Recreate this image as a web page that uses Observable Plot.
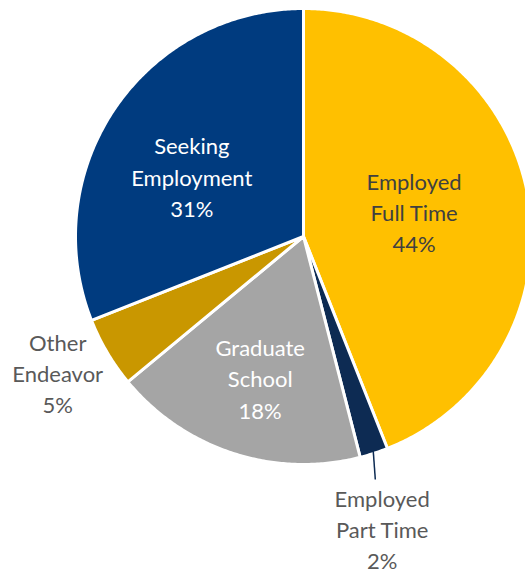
<!DOCTYPE html>
<html><head><meta charset="utf-8">
<script src="https://cdn.jsdelivr.net/npm/d3@7"></script>
<script src="https://cdn.jsdelivr.net/npm/@observablehq/plot@0.6"></script>
<style>body{margin:0;background:#fff;} #chart svg{overflow:hidden}</style>
</head><body><div id="chart"></div>
<script>
// ---- data ----
const categories = ["Employed Full Time", "Employed Part Time", "Graduate School", "Other Endeavor", "Seeking Employment"];
const values = [44, 2, 18, 5, 31];
const colors = ["#FFC000", "#0D2B53", "#A5A5A5", "#C99700", "#003B7F"];
const textColors = ["#404040", "#595959", "#ffffff", "#595959", "#ffffff"];

// ---- layout (unit-circle coordinates for label centres) ----
const labelPos = {
  "Employed Full Time": [0.485, 0.09],
  "Employed Part Time": [0.345, -1.30],
  "Graduate School": [-0.19, -0.64],
  "Other Endeavor": [-1.078, -0.616],
  "Seeking Employment": [-0.49, 0.245]
};
const leaderEnd = {"Employed Part Time": [0.315, -1.066]};

const cx = 303, cy = 236, R = 228;

const pie = d3.pie().sort(null).value(d => d.value)(categories.map((c, i) => ({category: c, value: values[i]})));

const pts = [];
for (const s of pie) {
  pts.push({category: s.data.category, x: 0, y: 0});
  const n = Math.max(4, Math.ceil((s.endAngle - s.startAngle) / (Math.PI / 360)));
  for (let k = 0; k <= n; k++) {
    const a = s.startAngle + (s.endAngle - s.startAngle) * k / n;
    pts.push({category: s.data.category, x: Math.sin(a), y: Math.cos(a)});
  }
}

const labels = pie.map((s, i) => {
  const c = s.data.category;
  const sp = c.indexOf(" ");
  return {
    category: c,
    text: c.slice(0, sp) + "\n" + c.slice(sp + 1) + "\n" + s.data.value + "%",
    x: labelPos[c][0], y: labelPos[c][1], color: textColors[i]
  };
});

const leaders = pie.filter(s => leaderEnd[s.data.category]).map(s => {
  const m = (s.startAngle + s.endAngle) / 2;
  const e = leaderEnd[s.data.category];
  return {x1: Math.sin(m) * 0.99, y1: Math.cos(m) * 0.99, x2: e[0], y2: e[1], category: s.data.category};
});

const chart = Plot.plot({
  width: 525, height: 579, margin: 0,
  x: {domain: [-1, 1], range: [cx - R, cx + R], axis: null},
  y: {domain: [-1, 1], range: [cy + R, cy - R], axis: null},
  color: {type: "ordinal", domain: categories, range: colors},
  style: {fontFamily: "Lato, 'Noto Sans', sans-serif", background: "white"},
  marks: [
    Plot.line(pts, {x: "x", y: "y", z: "category", fill: "category", stroke: "white", strokeWidth: 3, curve: "linear-closed", strokeLinejoin: "round"}),
    Plot.link(leaders, {x1: "x1", y1: "y1", x2: "x2", y2: "y2", stroke: "category", strokeWidth: 1.5}),
    Plot.text(labels, {x: "x", y: "y", dy: -5, text: "text", fill: d => d.color, fontSize: 22, lineHeight: 1.42, fontFamily: "Lato, sans-serif", textAnchor: "middle"})
  ]
});
document.getElementById("chart").append(chart);
</script>
</body></html>
